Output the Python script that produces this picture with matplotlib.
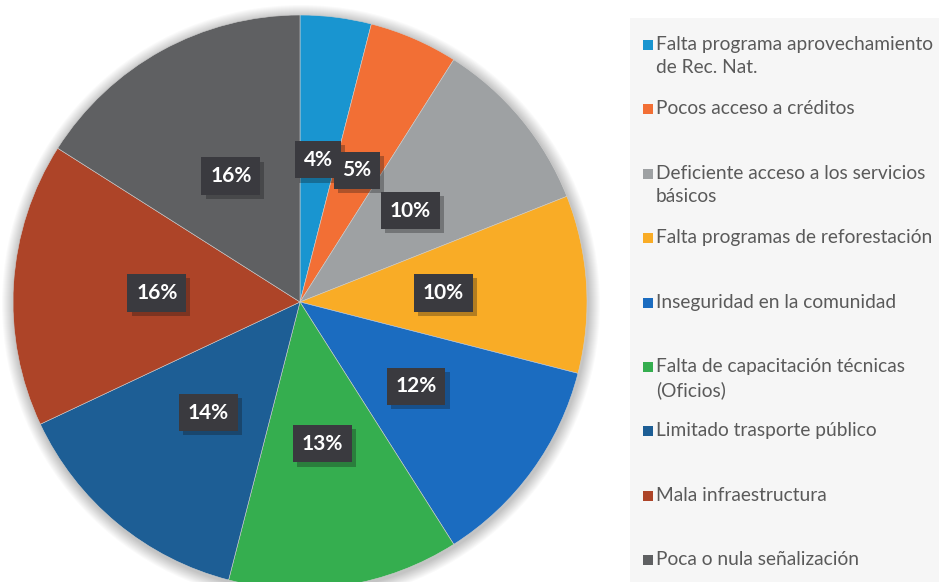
import matplotlib
matplotlib.use("Agg")
import matplotlib.pyplot as plt
import matplotlib.patheffects as pe
from matplotlib.patches import Circle, Rectangle

categories = [
    "Falta programa aprovechamiento\nde Rec. Nat.",
    "Pocos acceso a créditos",
    "Deficiente acceso a los servicios\nbásicos",
    "Falta programas de reforestación",
    "Inseguridad en la comunidad",
    "Falta de capacitación técnicas\n(Oficios)",
    "Limitado trasporte público",
    "Mala infraestructura",
    "Poca o nula señalización",
]
values = [4, 5, 10, 10, 12, 13, 14, 16, 16]
colors = ["#1995d0", "#f26f35", "#9ea1a3", "#f9ac26", "#1b6cc0",
          "#35ae4f", "#1d5e95", "#ad4428", "#5f6062"]

W, H = 939, 582
fig = plt.figure(figsize=(W / 100, H / 100), dpi=100)
fig.patch.set_facecolor("white")
ax = fig.add_axes([0, 0, 1, 1])

# pie geometry in pixel units (y up)
cx, cy, r = 300, H - 302, 287

# legend panel background
ax.add_patch(Rectangle((630, 0), W - 630, H - 18, facecolor="#f6f6f6",
                       edgecolor="none", zorder=0))

# soft shadow around the pie
for k in range(12):
    ax.add_patch(Circle((cx + 1, cy - 2), r + 12 - k, facecolor="#000000",
                        alpha=0.018, edgecolor="none", zorder=1))

wedges, texts, autotexts = ax.pie(
    values, colors=colors, startangle=90, counterclock=False,
    center=(cx, cy), radius=r, autopct="%.0f%%", pctdistance=0.5,
    wedgeprops=dict(edgecolor="#cfcfcf", linewidth=0.4, zorder=2),
    textprops=dict(color="white", fontsize=15, fontweight="bold",
                   family=["Lato", "DejaVu Sans"]),
)
for t in autotexts:
    t.set_zorder(5)
    t.set_bbox(dict(boxstyle="square,pad=0.42", facecolor="#3a3a3f",
                    edgecolor="none"))
    t.get_bbox_patch().set_path_effects(
        [pe.SimplePatchShadow(offset=(3, -3), alpha=0.3), pe.Normal()])

ax.set_xlim(0, W)
ax.set_ylim(0, H)
ax.set_aspect("equal")
ax.axis("off")

# legend, one entry every ~64 px
y0, step = H - 45, 64.4
for i, (lab, col) in enumerate(zip(categories, colors)):
    y = y0 - i * step
    ax.add_patch(Rectangle((643, y - 5), 10, 10, facecolor=col,
                           edgecolor="none", zorder=3))
    ax.text(656, y + 9, lab, ha="left", va="top", fontsize=13.8,
            color="#5a5a5a", family=["Lato", "DejaVu Sans"],
            linespacing=1.45, zorder=3)

fig.savefig("out.png", dpi=100)
